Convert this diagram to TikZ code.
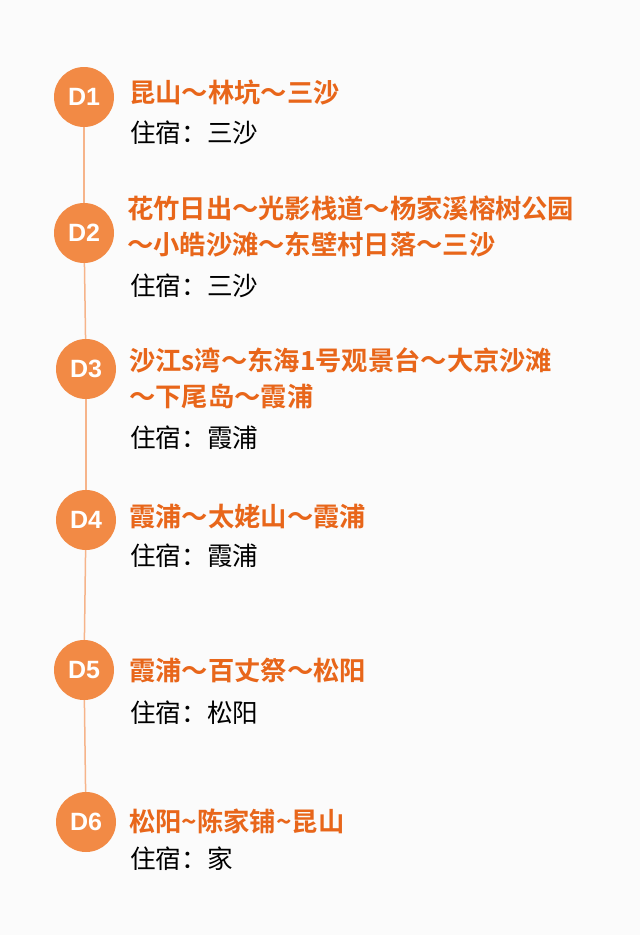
\documentclass[tikz,border=0pt]{standalone}
\usepackage{fontspec}
\newfontfamily\cjk{Noto Sans CJK SC}
\newfontfamily\cjkb{Noto Sans CJK SC Bold}
\newfontfamily\labf{Liberation Sans}
\definecolor{orng}{HTML}{F28A45}
\definecolor{ttl}{HTML}{E8661A}
\definecolor{lne}{HTML}{F6B48A}
\begin{document}
\begin{tikzpicture}[x=1pt,y=-1pt,
  day/.style={circle,fill=orng,minimum size=60pt,inner sep=0pt,text=white,font=\labf\bfseries\fontsize{25}{25}\selectfont},
  ttlt/.style={anchor=west,inner sep=0pt,text=ttl,font=\cjkb\fontsize{26.3}{36}\selectfont,align=left},
  stay/.style={anchor=west,inner sep=0pt,font=\cjk\fontsize{25.6}{25.6}\selectfont}]
\fill[white!97!gray] (0,0) rectangle (640,935);
\node[day] (d1) at (84,97) {D1};
\node[day] (d2) at (84,233) {D2};
\node[day] (d3) at (86,369) {D3};
\node[day] (d4) at (86,520) {D4};
\node[day] (d5) at (84,670) {D5};
\node[day] (d6) at (86,822) {D6};
\foreach \a/\b in {d1/d2,d2/d3,d3/d4,d4/d5,d5/d6}\draw[lne,line width=1.5pt] (\a)--(\b);
\node[ttlt] (t1) at (129,92) {昆山～林坑～三沙};
\node[stay] (s1) at (130,133) {住宿：三沙};
\node[ttlt] (t2) at (127,226) {花竹日出～光影栈道～杨家溪榕树公园\\～小皓沙滩～东壁村日落～三沙};
\node[stay] (s2) at (130,286) {住宿：三沙};
\node[ttlt] (t3) at (129,378) {沙江s湾～东海1号观景台～大京沙滩\\～下尾岛～霞浦};
\node[stay] (s3) at (130,438) {住宿：霞浦};
\node[ttlt] (t4) at (129,516) {霞浦～太姥山～霞浦};
\node[stay] (s4) at (130,556) {住宿：霞浦};
\node[ttlt] (t5) at (129,670) {霞浦～百丈祭～松阳};
\node[stay] (s5) at (130,713) {住宿：松阳};
\node[ttlt] (t6) at (129,821) {松阳\textasciitilde 陈家铺\textasciitilde 昆山};
\node[stay] (s6) at (130,859) {住宿：家};
\end{tikzpicture}
\end{document}
